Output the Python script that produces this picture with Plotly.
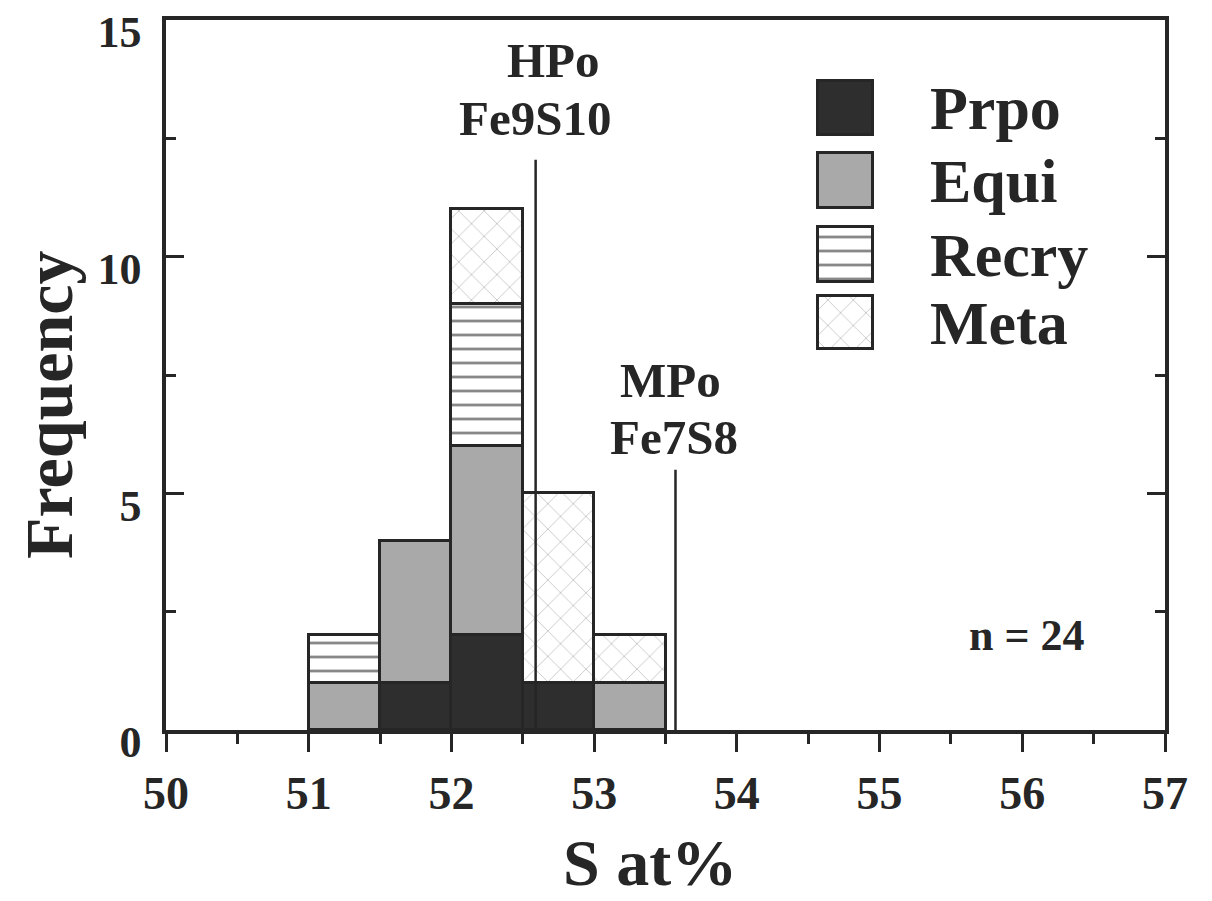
import plotly.graph_objects as go

# ---- data ----
bin_left = [51.0, 51.5, 52.0, 52.5, 53.0]
bin_width = 0.5
prpo = [0, 1, 2, 1, 0]
equi = [1, 3, 4, 0, 1]
recry = [1, 0, 3, 0, 0]
meta = [0, 0, 2, 4, 1]
series_names = ["Prpo", "Equi", "Recry", "Meta"]

ref_phase = ["HPo", "MPo"]
ref_formula = ["Fe9S10", "Fe7S8"]
ref_x = [52.59, 53.57]
ref_top = [12.05, 5.5]

n_total = sum(prpo) + sum(equi) + sum(recry) + sum(meta)

FONT = "Liberation Serif"
EDGE = "#262626"
TXT = "#262626"

styles = {
    "Prpo": dict(color="#2e2e2e"),
    "Equi": dict(color="#a9a9a9"),
    "Recry": dict(color="white", pattern=dict(shape="-", fgcolor="#111111", bgcolor="white", size=14, solidity=0.2)),
    "Meta": dict(color="white", pattern=dict(shape="x", fgcolor="#444444", bgcolor="white", size=18, solidity=0.06)),
}

# plot area in page pixels (used for the overlay axis that carries the legend/labels)
PX_L, PX_R, PX_T, PX_B = 166, 1165, 20, 730

centers = [b + bin_width / 2 for b in bin_left]
fig = go.Figure()
for name, vals in zip(series_names, [prpo, equi, recry, meta]):
    fig.add_trace(go.Bar(
        x=centers, y=vals, width=bin_width, name=name,
        marker=dict(**styles[name], line=dict(color=EDGE, width=3.5)),
        showlegend=False,
    ))

# reference lines
for rx, rt in zip(ref_x, ref_top):
    fig.add_trace(go.Scatter(x=[rx, rx], y=[0, rt], mode="lines",
                             line=dict(color=EDGE, width=2.5), showlegend=False, hoverinfo="skip"))

# reference-line labels (positioned in page-pixel overlay coords)
lab_pos = [((553, 60), (535, 118)), ((670, 380), (674, 437))]
for (p1, p2), ph, fo in zip(lab_pos, ref_phase, ref_formula):
    fig.add_annotation(x=p1[0], y=p1[1], xref="x2", yref="y2", text="<b>" + ph + "</b>",
                       showarrow=False, xanchor="center", yanchor="middle",
                       font=dict(family=FONT, size=49, color=TXT))
    fig.add_annotation(x=p2[0], y=p2[1], xref="x2", yref="y2", text="<b>" + fo + "</b>",
                       showarrow=False, xanchor="center", yanchor="middle",
                       font=dict(family=FONT, size=49, color=TXT))

fig.add_annotation(x=1027, y=635, xref="x2", yref="y2", text=f"<b>n = {n_total}</b>",
                   showarrow=False, font=dict(family=FONT, size=44, color=TXT))

# axis titles
fig.add_annotation(x=(49 - PX_L) / (PX_R - PX_L), y=(PX_B - 405) / (PX_B - PX_T),
                   xref="paper", yref="paper", text="<b>Frequency</b>",
                   textangle=-90, showarrow=False, xanchor="center", yanchor="middle",
                   font=dict(family=FONT, size=68, color=TXT))
fig.add_annotation(x=(650 - PX_L) / (PX_R - PX_L), y=(PX_B - 862) / (PX_B - PX_T),
                   xref="paper", yref="paper", text="<b>S at%</b>",
                   showarrow=False, xanchor="center", yanchor="middle",
                   font=dict(family=FONT, size=66, color=TXT))

# ---- custom legend on a hidden overlay axis (page-pixel units) ----
leg_y0 = [81, 153, 227, 296]
leg_y1 = [135, 208, 282, 349]
for name, y0, y1 in zip(series_names, leg_y0, leg_y1):
    fig.add_trace(go.Bar(
        x=[845.5], y=[y1 - y0], base=[y0], width=[55], xaxis="x2", yaxis="y2",
        marker=dict(**styles[name], line=dict(color=EDGE, width=3.5)),
        showlegend=False, hoverinfo="skip",
    ))
    fig.add_annotation(x=928, y=(y0 + y1) / 2, xref="x2", yref="y2", text="<b>" + name + "</b>",
                       showarrow=False, xanchor="left", yanchor="middle",
                       font=dict(family=FONT, size=62, color=TXT))

# page has an 8px body margin, so figure margins are offset by 8
fig.update_layout(
    width=1212, height=901,
    margin=dict(l=PX_L - 8, r=1212 + 8 - PX_R, t=PX_T - 8, b=901 + 8 - PX_B),
    paper_bgcolor="white", plot_bgcolor="white",
    barmode="stack", bargap=0,
    xaxis=dict(
        range=[50, 57], dtick=1, tick0=50, automargin=False,
        ticks="outside", ticklen=18, tickwidth=3, tickcolor=EDGE,
        minor=dict(dtick=0.5, ticks="outside", ticklen=10, tickwidth=3, tickcolor=EDGE),
        showline=True, linewidth=3.5, linecolor=EDGE, mirror=True,
        showgrid=False, zeroline=False, ticklabelstandoff=2,
        tickfont=dict(family=FONT, size=46, color=TXT, weight="bold"),
    ),
    yaxis=dict(
        range=[0, 15], dtick=5, tick0=0, automargin=False,
        ticks="inside", ticklen=18, tickwidth=3, tickcolor=EDGE,
        minor=dict(dtick=2.5, ticks="inside", ticklen=10, tickwidth=3, tickcolor=EDGE),
        showline=True, linewidth=3.5, linecolor=EDGE, mirror="ticks",
        showgrid=False, zeroline=False, ticklabelstandoff=12, ticklabelshift=12,
        ticklabeloverflow="allow",
        tickfont=dict(family=FONT, size=44, color=TXT, weight="bold"),
    ),
    xaxis2=dict(range=[PX_L, PX_R], overlaying="x", visible=False, fixedrange=True),
    yaxis2=dict(range=[PX_B, PX_T], overlaying="y", visible=False, fixedrange=True),
)

fig.write_html("out.html")
